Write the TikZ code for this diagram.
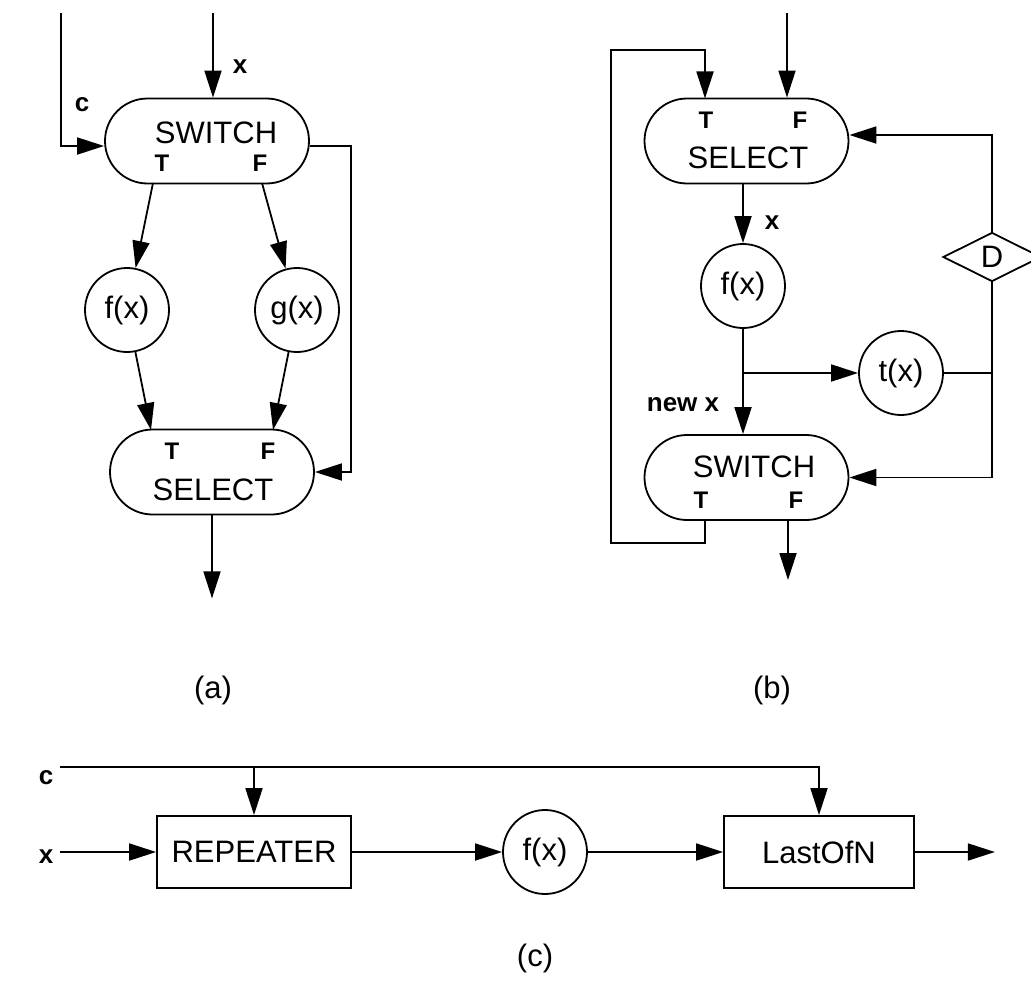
\documentclass[tikz,border=0pt]{standalone}
\usepackage{fontspec}
\setmainfont{Liberation Sans}
\usetikzlibrary{arrows.meta,shapes.misc,shapes.geometric,calc}
\newcommand{\fmain}{\fontsize{31}{36}\selectfont}
\newcommand{\ftf}{\fontsize{24}{28}\selectfont\bfseries}
\newcommand{\flab}{\fontsize{26}{30}\selectfont\bfseries}
\tikzset{
  ln/.style={line width=1.8pt},
  arr/.style={ln,-{Triangle[length=27pt,width=17pt]}},
  pill/.style={draw,ln,rounded rectangle,minimum width=204pt,minimum height=85pt,inner sep=0pt},
  circ/.style={draw,ln,circle,minimum size=84pt,inner sep=0pt,font=\fmain},
  box/.style={draw,ln,rectangle,minimum height=72pt,inner sep=0pt,font=\fmain},
  txt/.style={inner sep=0pt,font=\fmain},
  tf/.style={inner sep=0pt,font=\ftf},
  lab/.style={inner sep=0pt,font=\flab},
}
\begin{document}
\begin{tikzpicture}[x=1pt,y=-1pt]
\useasboundingbox[fill=white] (0,0) rectangle (1031,982);
% ---------- panel (a)
\node[pill] (swa) at (207,141) {};
\node[txt] (swaText) at (216,133) {SWITCH};
\node[tf] (swaT) at (162,163) {T};
\node[tf] (swaF) at (260,163) {F};
\node[circ] (fa) at (127,310) {f(x)};
\node[circ] (ga) at (297,310) {g(x)};
\node[pill] (sela) at (212,472) {};
\node[tf] (selaT) at (172,451) {T};
\node[tf] (selaF) at (268,451) {F};
\node[txt] (selaText) at (213,490) {SELECT};
\node[lab] (ca) at (82,105) {c};
\node[lab] (xa) at (240,67) {x};
\coordinate (ca0) at (61,13);
\coordinate (xa0) at (213,13);
\coordinate (ra) at (351,146);
\draw[arr] (ca0) |- ($(swa.west)+(0,5)$);
\draw[arr] (xa0) -- (xa0 |- swa.north);
\draw[arr] ($(swa.east)+(0,5)$) -- (ra) |- (sela.east);
\draw[arr] ($(swa.center)+(-54,42)$) -- (fa);
\draw[arr] ($(swa.center)+(55,42)$) -- (ga);
\draw[arr] (fa) -- ($(sela.center)+(-61,-42)$);
\draw[arr] (ga) -- ($(sela.center)+(61,-42)$);
\draw[arr] (sela.south) -- ++(0,83);
\node[txt] (la) at (213,690) {(a)};
% ---------- panel (b)
\node[pill] (selb) at (746.5,141) {};
\node[tf] (selbT) at (706,120) {T};
\node[tf] (selbF) at (800,120) {F};
\node[txt] (selbText) at (748,158) {SELECT};
\node[circ] (fb) at (743,286) {f(x)};
\node[circ] (tb) at (901,373) {t(x)};
\node[draw,ln,diamond,aspect=2,minimum width=98pt,minimum height=49pt,inner sep=0pt,font=\fmain] (D) at (992,257) {D};
\node[pill] (swb) at (746.5,477.5) {};
\node[txt] (swbText) at (754,467) {SWITCH};
\node[tf] (swbT) at (701,500) {T};
\node[tf] (swbF) at (796,500) {F};
\node[lab] (xb) at (772,223) {x};
\node[lab] (newx) at (683,405) {new x};
\coordinate (xb0) at (787,13);
\coordinate (lb) at (611,50);
\draw[arr] (xb0) -- (xb0 |- selb.north);
\draw[arr] ($(swb.center)+(-41.5,42.5)$) -- ++(0,23) -| (lb) -| ($(selb.center)+(-41.5,-42.5)$);
\draw[arr] (selb.south -| fb) -- (fb.north);
\draw[arr] (fb.south) -- (fb.south |- swb.north);
\draw[arr] (fb |- tb) -- (tb.west);
\draw[ln] (tb.east) -- (tb.east -| D.south);
\draw[arr] (D.south) |- (swb.east);
\draw[arr] (D.north) |- ($(selb.east)+(0,-6)$);
\draw[arr] ($(swb.center)+(41.5,42.5)$) -- ++(0,60);
\node[txt] (lbb) at (772,690) {(b)};
% ---------- panel (c)
\node[box,minimum width=194pt] (rep) at (254,852) {REPEATER};
\node[circ] (fc) at (545,852) {f(x)};
\node[box,minimum width=190pt] (last) at (819,852) {LastOfN};
\node[lab] (cc) at (46,778) {c};
\node[lab] (xc) at (46,857) {x};
\coordinate (c0) at (60,767);
\coordinate (x0) at (60,852);
\draw[arr] (c0) -| (last.north);
\draw[arr] (c0 -| rep.north) -- (rep.north);
\draw[arr] (x0) -- (rep.west);
\draw[arr] (rep.east) -- (fc.west);
\draw[arr] (fc.east) -- (last.west);
\draw[arr] (last.east) -- ++(80,0);
\node[txt] (lc) at (535,958) {(c)};
\end{tikzpicture}
\end{document}
